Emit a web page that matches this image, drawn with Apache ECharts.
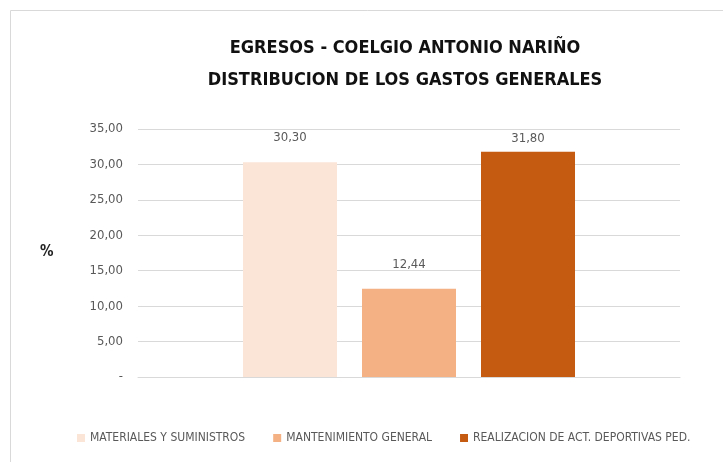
<!DOCTYPE html>
<html>
<head>
<meta charset="utf-8">
<script src="https://cdn.jsdelivr.net/npm/echarts@6/dist/echarts.min.js"></script>
<style>
html,body{margin:0;padding:0;background:#fff;}
#chart{width:723px;height:462px;}
</style>
</head>
<body>
<div id="chart"></div>
<script>
const titleLines = ['EGRESOS - COELGIO ANTONIO NARIÑO', 'DISTRIBUCION DE LOS GASTOS GENERALES']
const categories = ['']
const seriesNames = ['MATERIALES Y SUMINISTROS', 'MANTENIMIENTO GENERAL', 'REALIZACION DE ACT. DEPORTIVAS PED.']
const seriesValues = [30.30, 12.44, 31.80]
const yTicks = [0, 5, 10, 15, 20, 25, 30, 35]

const colors = ['#FBE5D6', '#F4B183', '#C55A11']
const labelDist = [18, 18, 7]
const font = "'Liberation Sans Narrow', 'DejaVu Sans Condensed', sans-serif"

const fmt = v => v === 0 ? '-' : v.toFixed(2).replace('.', ',')

const mychart = echarts.init(document.getElementById('chart'))

const series = seriesNames.map((name, i) => ({
    name: name,
    type: 'bar',
    barWidth: 94,
    barGap: '26.6%',
    itemStyle: { color: colors[i] },
    label: {
        show: true,
        position: 'top',
        distance: labelDist[i],
        color: '#595959',
        fontFamily: font,
        fontSize: 13,
        formatter: p => fmt(p.value)
    },
    data: [seriesValues[i]]
}))

const option = {
    animation: false,
    title: {
        text: titleLines.join('\n'),
        left: 400,
        textAlign: 'center',
        top: 27,
        textStyle: {
            fontFamily: font,
            fontSize: 18,
            fontWeight: 'bold',
            color: '#111',
            lineHeight: 32
        }
    },
    graphic: [{
        type: 'rect',
        shape: { x: 10.5, y: 10.5, width: 800, height: 600 },
        style: { fill: 'none', stroke: '#D9D9D9', lineWidth: 1 },
        silent: true
    }, {
        type: 'text',
        left: 40,
        top: 245,
        style: { text: '%', fontFamily: font, fontSize: 15, fontWeight: 'bold', fill: '#222' }
    }],
    legend: {
        bottom: 13,
        left: 72,
        itemWidth: 8,
        itemHeight: 8,
        itemGap: 28,
        icon: 'rect',
        textStyle: { fontFamily: font, fontSize: 12, color: '#595959' },
        data: seriesNames
    },
    grid: { top: 129, bottom: 85, left: 138, right: 43 },
    xAxis: {
        type: 'category',
        data: categories,
        axisTick: { show: false },
        axisLabel: { show: false },
        axisLine: { lineStyle: { color: '#D9D9D9' } }
    },
    yAxis: {
        type: 'value',
        min: yTicks[0],
        max: yTicks[yTicks.length - 1],
        interval: 5,
        axisLine: { show: false },
        axisTick: { show: false },
        axisLabel: {
            margin: 15,
            color: '#595959',
            fontFamily: font,
            fontSize: 13,
            formatter: v => fmt(v)
        },
        splitLine: { lineStyle: { color: '#D9D9D9' } }
    },
    series: series
}
mychart.setOption(option)
</script>
</body>
</html>
